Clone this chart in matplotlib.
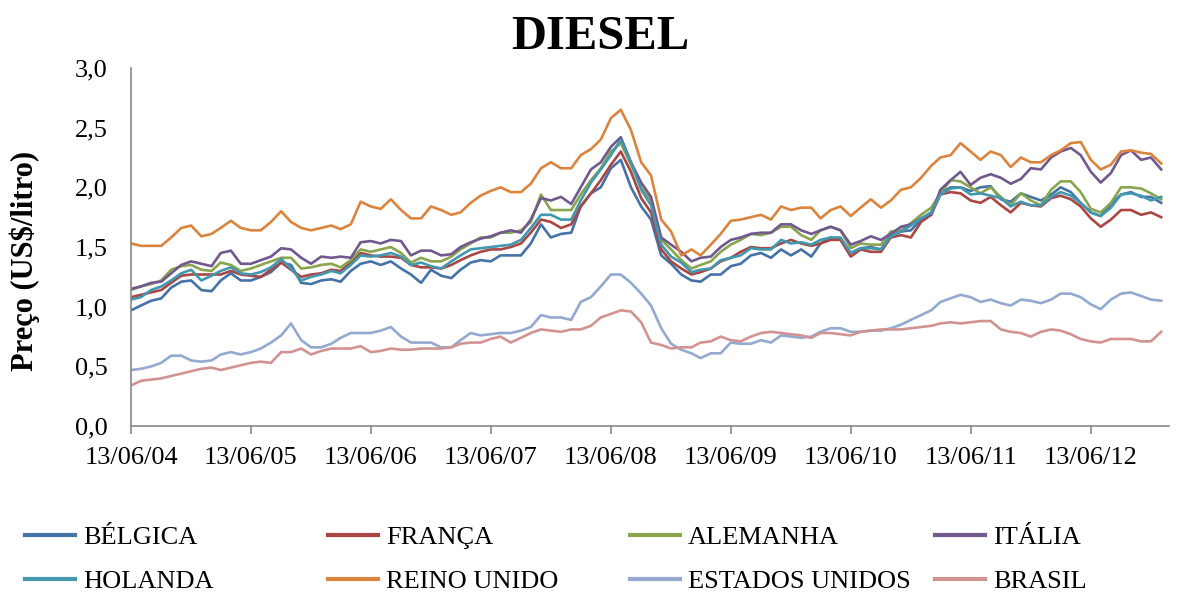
import matplotlib.pyplot as plt
import matplotlib.dates as mdates
from matplotlib.ticker import MultipleLocator, FuncFormatter
import pandas as pd

plt.rcParams['font.family'] = ['Liberation Serif', 'DejaVu Serif']

# monthly readings, Jun/2004 .. Jan/2013 (US$ per litre)
dates = pd.date_range('2004-06-13', periods=104, freq=pd.DateOffset(months=1))

belgica = [0.97, 1.01, 1.05, 1.07, 1.16, 1.21, 1.22, 1.14, 1.13, 1.22,
           1.28, 1.22, 1.22, 1.25, 1.29, 1.37, 1.35, 1.20, 1.19, 1.22,
           1.23, 1.21, 1.30, 1.36, 1.38, 1.35, 1.38, 1.32, 1.27, 1.20,
           1.31, 1.26, 1.24, 1.31, 1.37, 1.39, 1.38, 1.43, 1.43, 1.43,
           1.53, 1.69, 1.58, 1.61, 1.62, 1.84, 1.95, 2.00, 2.16, 2.23,
           2.00, 1.84, 1.73, 1.43, 1.36, 1.27, 1.22, 1.21, 1.27, 1.27,
           1.34, 1.36, 1.43, 1.45, 1.41, 1.48, 1.43, 1.48, 1.42, 1.53,
           1.58, 1.56, 1.45, 1.49, 1.50, 1.48, 1.60, 1.63, 1.64, 1.73,
           1.79, 1.95, 2.00, 2.00, 1.97, 2.00, 2.01, 1.90, 1.88, 1.95,
           1.92, 1.89, 1.94, 2.00, 1.96, 1.87, 1.79, 1.76, 1.86, 1.94,
           1.96, 1.92, 1.92, 1.87]

franca = [1.08, 1.10, 1.12, 1.14, 1.20, 1.26, 1.27, 1.27, 1.27, 1.27,
          1.30, 1.27, 1.26, 1.25, 1.31, 1.37, 1.31, 1.25, 1.27, 1.28,
          1.31, 1.30, 1.37, 1.45, 1.43, 1.42, 1.42, 1.41, 1.35, 1.33,
          1.33, 1.32, 1.35, 1.39, 1.43, 1.46, 1.48, 1.48, 1.50, 1.53,
          1.62, 1.73, 1.71, 1.66, 1.69, 1.84, 1.95, 2.06, 2.19, 2.30,
          2.13, 1.91, 1.79, 1.48, 1.38, 1.32, 1.27, 1.29, 1.32, 1.38,
          1.41, 1.46, 1.50, 1.49, 1.49, 1.53, 1.56, 1.53, 1.51, 1.53,
          1.56, 1.56, 1.42, 1.48, 1.46, 1.46, 1.58, 1.60, 1.58, 1.71,
          1.77, 1.94, 1.96, 1.95, 1.89, 1.87, 1.92, 1.85, 1.79, 1.87,
          1.85, 1.84, 1.91, 1.93, 1.90, 1.84, 1.74, 1.67, 1.73, 1.81,
          1.81, 1.77, 1.79, 1.75]

alemanha = [1.14, 1.17, 1.19, 1.22, 1.31, 1.34, 1.35, 1.31, 1.30, 1.37,
            1.35, 1.30, 1.32, 1.35, 1.38, 1.41, 1.41, 1.32, 1.33, 1.35,
            1.36, 1.33, 1.39, 1.48, 1.46, 1.48, 1.50, 1.45, 1.37, 1.41,
            1.38, 1.38, 1.42, 1.48, 1.53, 1.58, 1.58, 1.62, 1.62, 1.64,
            1.71, 1.94, 1.81, 1.81, 1.81, 1.94, 2.06, 2.16, 2.30, 2.37,
            2.19, 2.00, 1.89, 1.56, 1.48, 1.39, 1.32, 1.35, 1.38, 1.46,
            1.52, 1.56, 1.61, 1.60, 1.62, 1.67, 1.67, 1.60, 1.56, 1.64,
            1.67, 1.64, 1.49, 1.53, 1.52, 1.52, 1.63, 1.64, 1.70, 1.77,
            1.83, 1.95, 2.06, 2.05, 2.00, 1.95, 2.00, 1.92, 1.85, 1.95,
            1.89, 1.85, 1.98, 2.05, 2.05, 1.96, 1.82, 1.79, 1.87, 2.00,
            2.00, 1.99, 1.95, 1.90]

italia = [1.15, 1.17, 1.20, 1.21, 1.28, 1.35, 1.38, 1.36, 1.34, 1.45,
          1.47, 1.36, 1.36, 1.39, 1.42, 1.49, 1.48, 1.41, 1.36, 1.42,
          1.41, 1.42, 1.41, 1.54, 1.55, 1.53, 1.56, 1.55, 1.43, 1.47,
          1.47, 1.43, 1.44, 1.50, 1.54, 1.57, 1.59, 1.62, 1.64, 1.62,
          1.73, 1.91, 1.89, 1.92, 1.86, 2.00, 2.15, 2.21, 2.34, 2.42,
          2.21, 2.04, 1.92, 1.58, 1.52, 1.46, 1.38, 1.41, 1.42, 1.50,
          1.56, 1.58, 1.61, 1.62, 1.62, 1.69, 1.69, 1.64, 1.61, 1.64,
          1.67, 1.64, 1.52, 1.55, 1.59, 1.56, 1.61, 1.67, 1.69, 1.74,
          1.77, 1.98, 2.06, 2.13, 2.02, 2.08, 2.11, 2.08, 2.03, 2.07,
          2.16, 2.15, 2.25, 2.30, 2.33, 2.27, 2.13, 2.04, 2.12, 2.27,
          2.31, 2.23, 2.25, 2.15]

holanda = [1.06, 1.08, 1.14, 1.17, 1.22, 1.28, 1.31, 1.22, 1.26, 1.30,
           1.33, 1.28, 1.27, 1.29, 1.33, 1.40, 1.32, 1.22, 1.25, 1.27,
           1.30, 1.28, 1.35, 1.43, 1.42, 1.43, 1.45, 1.42, 1.35, 1.37,
           1.34, 1.32, 1.38, 1.43, 1.48, 1.49, 1.50, 1.51, 1.52, 1.56,
           1.66, 1.77, 1.77, 1.73, 1.73, 1.89, 2.04, 2.15, 2.27, 2.40,
           2.21, 1.98, 1.85, 1.52, 1.42, 1.37, 1.29, 1.31, 1.32, 1.39,
           1.41, 1.43, 1.49, 1.48, 1.48, 1.56, 1.53, 1.54, 1.52, 1.56,
           1.58, 1.58, 1.45, 1.49, 1.49, 1.48, 1.59, 1.63, 1.68, 1.74,
           1.79, 1.94, 1.99, 2.00, 1.94, 1.95, 1.93, 1.91, 1.84, 1.88,
           1.85, 1.85, 1.92, 1.96, 1.93, 1.87, 1.79, 1.76, 1.83, 1.94,
           1.95, 1.93, 1.89, 1.92]

reino_unido = [1.53, 1.51, 1.51, 1.51, 1.58, 1.66, 1.68, 1.59, 1.61, 1.66,
               1.72, 1.66, 1.64, 1.64, 1.71, 1.80, 1.71, 1.66, 1.64, 1.66,
               1.68, 1.65, 1.69, 1.88, 1.84, 1.82, 1.90, 1.81, 1.74, 1.74,
               1.84, 1.81, 1.77, 1.79, 1.87, 1.93, 1.97, 2.00, 1.96, 1.96,
               2.03, 2.16, 2.21, 2.16, 2.16, 2.27, 2.32, 2.40, 2.58, 2.65,
               2.48, 2.21, 2.10, 1.73, 1.63, 1.43, 1.48, 1.43, 1.52, 1.61,
               1.72, 1.73, 1.75, 1.77, 1.73, 1.84, 1.81, 1.83, 1.83, 1.74,
               1.81, 1.84, 1.76, 1.83, 1.90, 1.83, 1.89, 1.98, 2.00, 2.08,
               2.18, 2.25, 2.27, 2.37, 2.30, 2.23, 2.30, 2.27, 2.17, 2.25,
               2.21, 2.21, 2.27, 2.31, 2.37, 2.38, 2.23, 2.15, 2.19, 2.30,
               2.31, 2.29, 2.28, 2.20]

estados_unidos = [0.47, 0.48, 0.50, 0.53, 0.59, 0.59, 0.55, 0.54, 0.55, 0.60,
                  0.62, 0.60, 0.62, 0.65, 0.70, 0.76, 0.86, 0.72, 0.66, 0.66,
                  0.69, 0.74, 0.78, 0.78, 0.78, 0.80, 0.83, 0.75, 0.70, 0.70,
                  0.70, 0.66, 0.66, 0.72, 0.78, 0.76, 0.77, 0.78, 0.78, 0.80,
                  0.83, 0.93, 0.91, 0.91, 0.89, 1.04, 1.08, 1.17, 1.27, 1.27,
                  1.20, 1.11, 1.01, 0.82, 0.69, 0.64, 0.61, 0.57, 0.61, 0.61,
                  0.70, 0.69, 0.69, 0.72, 0.70, 0.76, 0.75, 0.74, 0.75, 0.79,
                  0.82, 0.82, 0.79, 0.79, 0.80, 0.80, 0.82, 0.85, 0.89, 0.93,
                  0.97, 1.04, 1.07, 1.10, 1.08, 1.04, 1.06, 1.03, 1.01, 1.06,
                  1.05, 1.03, 1.06, 1.11, 1.11, 1.08, 1.02, 0.98, 1.06, 1.11,
                  1.12, 1.09, 1.06, 1.05]

brasil = [0.34, 0.38, 0.39, 0.40, 0.42, 0.44, 0.46, 0.48, 0.49, 0.47,
          0.49, 0.51, 0.53, 0.54, 0.53, 0.62, 0.62, 0.65, 0.60, 0.63,
          0.65, 0.65, 0.65, 0.67, 0.62, 0.63, 0.65, 0.64, 0.64, 0.65,
          0.65, 0.65, 0.66, 0.69, 0.70, 0.70, 0.73, 0.75, 0.70, 0.74,
          0.78, 0.81, 0.80, 0.79, 0.81, 0.81, 0.84, 0.91, 0.94, 0.97,
          0.96, 0.87, 0.70, 0.68, 0.65, 0.66, 0.66, 0.70, 0.71, 0.75,
          0.72, 0.71, 0.75, 0.78, 0.79, 0.78, 0.77, 0.76, 0.74, 0.78,
          0.78, 0.77, 0.76, 0.79, 0.80, 0.81, 0.81, 0.81, 0.82, 0.83,
          0.84, 0.86, 0.87, 0.86, 0.87, 0.88, 0.88, 0.81, 0.79, 0.78,
          0.75, 0.79, 0.81, 0.80, 0.77, 0.73, 0.71, 0.70, 0.73, 0.73,
          0.73, 0.71, 0.71, 0.79]

series = [
    ("BÉLGICA", belgica, "#4572A7"),
    ("FRANÇA", franca, "#AA4643"),
    ("ALEMANHA", alemanha, "#89A54E"),
    ("ITÁLIA", italia, "#71588F"),
    ("HOLANDA", holanda, "#4198AF"),
    ("REINO UNIDO", reino_unido, "#DB843D"),
    ("ESTADOS UNIDOS", estados_unidos, "#93A9CF"),
    ("BRASIL", brasil, "#D19392"),
]

tick_dates = pd.date_range('2004-06-13', periods=9, freq=pd.DateOffset(years=1))

fig = plt.figure(figsize=(12, 5.96), dpi=100)
ax = fig.add_axes([0.1092, 0.285, 0.865, 0.601])

handles = []
for name, vals, color in series:
    ln, = ax.plot(dates, vals, color=color, lw=1.9, label=name)
    handles.append(ln)

ax.set_xlim(pd.Timestamp('2004-06-13'), pd.Timestamp('2013-02-06'))
ax.set_ylim(0, 3.0)
ax.yaxis.set_major_locator(MultipleLocator(0.5))
ax.yaxis.set_major_formatter(FuncFormatter(lambda v, p: f"{v:.1f}".replace('.', ',')))
ax.set_xticks(tick_dates)
ax.xaxis.set_major_formatter(mdates.DateFormatter('%d/%m/%y'))

for side in ('top', 'right'):
    ax.spines[side].set_visible(False)
for side in ('left', 'bottom'):
    ax.spines[side].set_color('#868686')
    ax.spines[side].set_linewidth(1.2)
ax.tick_params(axis='both', direction='out', width=1.2,
               color='#868686', labelsize=19, labelcolor='black')
ax.tick_params(axis='y', length=0, pad=17)
ax.tick_params(axis='x', length=6, pad=9)

ax.set_ylabel("Preço (US$/litro)", fontsize=22, fontweight='bold', labelpad=24)
ax.yaxis.set_label_coords(-0.088, 0.46)
fig.suptitle("DIESEL", fontsize=35, fontweight='bold', y=0.975)

# legend laid out as four columns of two entries
col_x = [0.0208, 0.2733, 0.525, 0.779]
for i, x in enumerate(col_x):
    leg = fig.legend(handles=[handles[i], handles[i + 4]], loc='upper left',
                     bbox_to_anchor=(x, 0.118), frameon=False, fontsize=19,
                     handlelength=1.9, handletextpad=0.3, labelspacing=0.78,
                     borderpad=0, borderaxespad=0)
    for h in leg.legend_handles:
        h.set_linewidth(3)

fig.savefig('out.png', dpi=100)
